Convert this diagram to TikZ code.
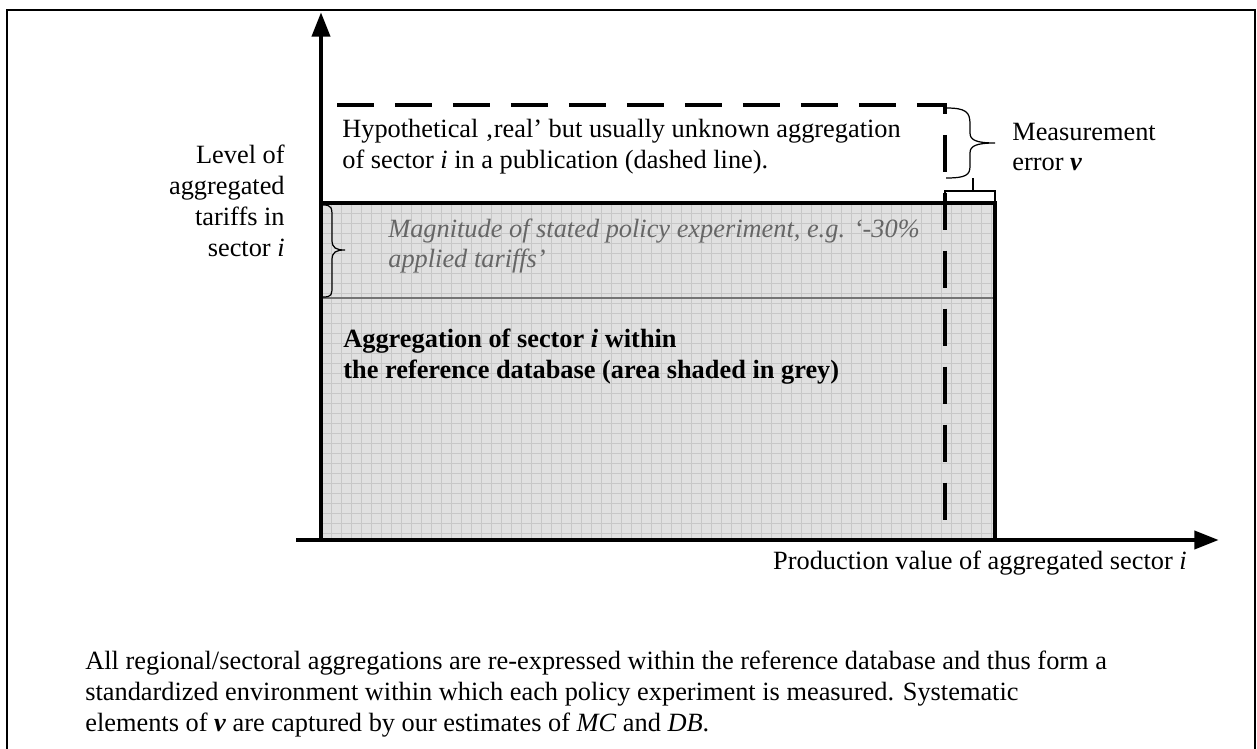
\documentclass[tikz,border=0pt]{standalone}
\usepackage{fontspec}
\setmainfont{Liberation Serif}
\usepackage{tikz}
\usetikzlibrary{arrows.meta}
\tikzstyle{chart}=[x=0.02cm, y=-0.02cm, font=\fontsize{15}{17.6}\selectfont]
\tikzstyle{frame}=[draw=black, line width=1.1pt]
\tikzstyle{axis}=[line width=2.8pt, -{Triangle[length=14pt,width=10pt]}]
\tikzstyle{area}=[fill=black!12, draw=none]
\tikzstyle{gridline}=[draw=black!22, line width=0.5pt]
\tikzstyle{border}=[line width=2.8pt]
\tikzstyle{real}=[line width=2.8pt, dash pattern=on 21pt off 12pt]
\tikzstyle{cut}=[draw=black!55, line width=1.1pt]
\tikzstyle{brack}=[line width=0.7pt]
\tikzstyle{lbl}=[inner sep=0pt, align=left, anchor=west]
\tikzstyle{ylbl}=[inner sep=0pt, align=right, anchor=east]
\tikzstyle{note}=[lbl, text=black!60, font=\fontsize{15}{17.6}\selectfont\itshape]
\newcommand{\axisX}{321}
\newcommand{\baseY}{540}
\newcommand{\topY}{203}
\newcommand{\rightX}{995}
\newcommand{\realX}{945}
\newcommand{\realY}{105}
\newcommand{\cutY}{298}

\begin{document}
\begin{tikzpicture}[chart]
		\useasboundingbox (0,0) rectangle (1257,749);
		%The frame
		\draw[frame] (7,749) -- (7,10) -- (1255,10) -- (1255,749);

		%The shaded database area
		\fill[area] (\axisX,\topY) rectangle (\rightX,\baseY);
		\foreach \gx in {331,341,...,991}
			\draw[gridline] (\gx,\topY) -- (\gx,\baseY);
		\foreach \gy in {213,223,...,533}
			\draw[gridline] (\axisX,\gy) -- (\rightX,\gy);
		\draw[cut] (\axisX,\cutY) -- (\rightX,\cutY);
		\draw[border] (\axisX,\baseY) -- (\axisX,\topY) -- (\rightX,\topY) -- (\rightX,\baseY);

		%The hypothetical real aggregation
		\draw[real] (337,\realY) -- (\realX,\realY) -- (\realX,\baseY);

		%The axes
		\coordinate (o) at (\axisX,\baseY);
		\coordinate (ytip) at (\axisX,12);
		\coordinate (xfoot) at (296,\baseY);
		\coordinate (xtip) at (1219,\baseY);
		\draw[axis] (o) -- (ytip);
		\draw[axis] (xfoot) -- (xtip);

		%The braces
		\draw[brack] (323,205) .. controls (332,205) and (332,208) .. (332,218) -- (332,240)
			.. controls (332,248) and (336,250) .. (345,250)
			.. controls (336,250) and (332,252) .. (332,260) -- (332,285)
			.. controls (332,295) and (332,297) .. (323,297);
		\draw[brack] (946,108) .. controls (966,108) and (970,112) .. (970,124) -- (970,133)
			.. controls (970,140) and (976,143) .. (995,143)
			.. controls (976,143) and (970,146) .. (970,153) -- (970,166)
			.. controls (970,175) and (966,178) .. (946,178);
		\draw[brack] (945,203) -- (945,191) -- (\rightX,191) -- (\rightX,203);
		\draw[brack] (973,191) -- (973,178);

		%The labels
		\node[ylbl] (level) at (285,201) {Level of\\aggregated\\tariffs in\\sector \textit{i}};
		\node[lbl] (hypo) at (342,147) {Hypothetical ‚real’ but usually unknown aggregation\\of sector \textit{i} in a publication (dashed line).};
		\node[note] (magn) at (388,246) {Magnitude of stated policy experiment, e.g. ‘-30\%\\applied tariffs’};
		\node[lbl, font=\fontsize{15}{17.6}\selectfont\bfseries] (aggr) at (343,357) {Aggregation of sector \textit{i} within\\the reference database (area shaded in grey)};
		\node[lbl] (meas) at (1012,147) {Measurement\\error \textbf{\textit{v}}};
		\node[ylbl] (prod) at (1187,563) {Production value of aggregated sector \textit{i}};
		\node[lbl] (foot) at (85,694) {All regional/sectoral aggregations are re-expressed within the reference database and thus form a\\standardized environment within which each policy experiment is measured. Systematic\\elements of \textbf{\textit{v}} are captured by our estimates of \textit{MC} and \textit{DB}.};
\end{tikzpicture}
\end{document}
